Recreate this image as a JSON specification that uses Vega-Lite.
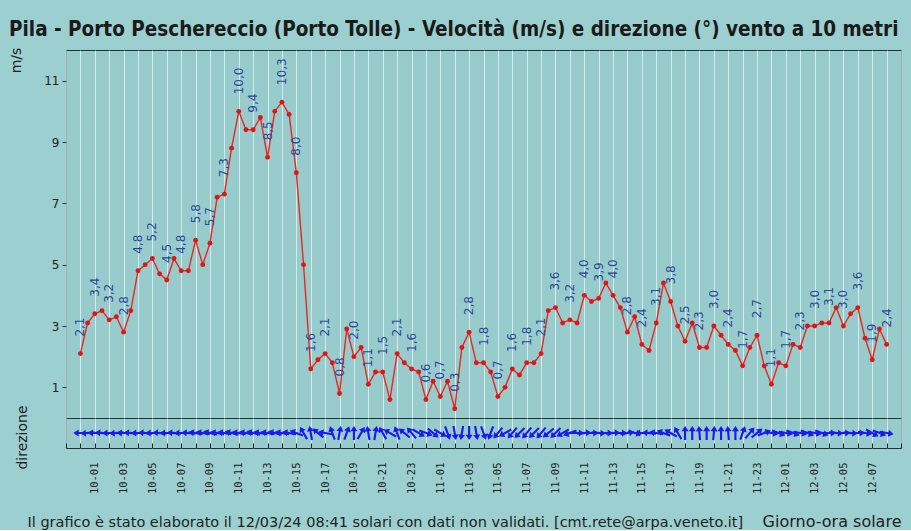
{
  "$schema": "https://vega.github.io/schema/vega-lite/v6.json",
  "background": "#9ccfcf",
  "padding": {"left": 8, "top": 19, "right": 9, "bottom": 0},
  "spacing": 0,
  "bounds": "flush",
  "config": {
    "view": {"stroke": "#1f3535", "strokeWidth": 1, "fill": "#98cccc"},
    "font": "DejaVu Sans",
    "axis": {"labelColor": "#222222", "titleColor": "#222222", "labelFont": "DejaVu Sans", "titleFont": "DejaVu Sans", "titleFontWeight": "normal"}
  },
  "data": {
    "values": [
      {"ore": 0, "velocita": 2.1, "direzione": 90},
      {"ore": 0.5, "velocita": 3.1, "direzione": 85},
      {"ore": 1, "velocita": 3.4, "direzione": 90},
      {"ore": 1.5, "velocita": 3.5, "direzione": 95},
      {"ore": 2, "velocita": 3.2, "direzione": 90},
      {"ore": 2.5, "velocita": 3.3, "direzione": 85},
      {"ore": 3, "velocita": 2.8, "direzione": 90},
      {"ore": 3.5, "velocita": 3.5, "direzione": 95},
      {"ore": 4, "velocita": 4.8, "direzione": 90},
      {"ore": 4.5, "velocita": 5.0, "direzione": 95},
      {"ore": 5, "velocita": 5.2, "direzione": 90},
      {"ore": 5.5, "velocita": 4.7, "direzione": 95},
      {"ore": 6, "velocita": 4.5, "direzione": 90},
      {"ore": 6.5, "velocita": 5.2, "direzione": 95},
      {"ore": 7, "velocita": 4.8, "direzione": 90},
      {"ore": 7.5, "velocita": 4.8, "direzione": 95},
      {"ore": 8, "velocita": 5.8, "direzione": 100},
      {"ore": 8.5, "velocita": 5.0, "direzione": 100},
      {"ore": 9, "velocita": 5.7, "direzione": 105},
      {"ore": 9.5, "velocita": 7.2, "direzione": 100},
      {"ore": 10, "velocita": 7.3, "direzione": 100},
      {"ore": 10.5, "velocita": 8.8, "direzione": 105},
      {"ore": 11, "velocita": 10.0, "direzione": 100},
      {"ore": 11.5, "velocita": 9.4, "direzione": 100},
      {"ore": 12, "velocita": 9.4, "direzione": 105},
      {"ore": 12.5, "velocita": 9.8, "direzione": 100},
      {"ore": 13, "velocita": 8.5, "direzione": 100},
      {"ore": 13.5, "velocita": 10.0, "direzione": 105},
      {"ore": 14, "velocita": 10.3, "direzione": 100},
      {"ore": 14.5, "velocita": 9.9, "direzione": 100},
      {"ore": 15, "velocita": 8.0, "direzione": 110},
      {"ore": 15.5, "velocita": 5.0, "direzione": 150},
      {"ore": 16, "velocita": 1.6, "direzione": 170},
      {"ore": 16.5, "velocita": 1.9, "direzione": 130},
      {"ore": 17, "velocita": 2.1, "direzione": 100},
      {"ore": 17.5, "velocita": 1.8, "direzione": 160},
      {"ore": 18, "velocita": 0.8, "direzione": 190},
      {"ore": 18.5, "velocita": 2.9, "direzione": 200},
      {"ore": 19, "velocita": 2.0, "direzione": 180},
      {"ore": 19.5, "velocita": 2.3, "direzione": 210},
      {"ore": 20, "velocita": 1.1, "direzione": 170},
      {"ore": 20.5, "velocita": 1.5, "direzione": 190},
      {"ore": 21, "velocita": 1.5, "direzione": 150},
      {"ore": 21.5, "velocita": 0.6, "direzione": 120},
      {"ore": 22, "velocita": 2.1, "direzione": 160},
      {"ore": 22.5, "velocita": 1.8, "direzione": 130},
      {"ore": 23, "velocita": 1.6, "direzione": 140},
      {"ore": 23.5, "velocita": 1.5, "direzione": 300},
      {"ore": 24, "velocita": 0.6, "direzione": 290},
      {"ore": 24.5, "velocita": 1.2, "direzione": 310},
      {"ore": 25, "velocita": 0.7, "direzione": 300},
      {"ore": 25.5, "velocita": 1.2, "direzione": 340},
      {"ore": 26, "velocita": 0.3, "direzione": 350},
      {"ore": 26.5, "velocita": 2.3, "direzione": 10},
      {"ore": 27, "velocita": 2.8, "direzione": 0},
      {"ore": 27.5, "velocita": 1.8, "direzione": 350},
      {"ore": 28, "velocita": 1.8, "direzione": 340},
      {"ore": 28.5, "velocita": 1.5, "direzione": 20},
      {"ore": 29, "velocita": 0.7, "direzione": 40},
      {"ore": 29.5, "velocita": 1.0, "direzione": 60},
      {"ore": 30, "velocita": 1.6, "direzione": 40},
      {"ore": 30.5, "velocita": 1.4, "direzione": 45},
      {"ore": 31, "velocita": 1.8, "direzione": 40},
      {"ore": 31.5, "velocita": 1.8, "direzione": 45},
      {"ore": 32, "velocita": 2.1, "direzione": 40},
      {"ore": 32.5, "velocita": 3.5, "direzione": 50},
      {"ore": 33, "velocita": 3.6, "direzione": 45},
      {"ore": 33.5, "velocita": 3.1, "direzione": 60},
      {"ore": 34, "velocita": 3.2, "direzione": 70},
      {"ore": 34.5, "velocita": 3.1, "direzione": 270},
      {"ore": 35, "velocita": 4.0, "direzione": 265},
      {"ore": 35.5, "velocita": 3.8, "direzione": 270},
      {"ore": 36, "velocita": 3.9, "direzione": 275},
      {"ore": 36.5, "velocita": 4.4, "direzione": 270},
      {"ore": 37, "velocita": 4.0, "direzione": 265},
      {"ore": 37.5, "velocita": 3.6, "direzione": 270},
      {"ore": 38, "velocita": 2.8, "direzione": 260},
      {"ore": 38.5, "velocita": 3.3, "direzione": 280},
      {"ore": 39, "velocita": 2.4, "direzione": 90},
      {"ore": 39.5, "velocita": 2.2, "direzione": 95},
      {"ore": 40, "velocita": 3.1, "direzione": 100},
      {"ore": 40.5, "velocita": 4.4, "direzione": 110},
      {"ore": 41, "velocita": 3.8, "direzione": 120},
      {"ore": 41.5, "velocita": 3.0, "direzione": 150},
      {"ore": 42, "velocita": 2.5, "direzione": 180},
      {"ore": 42.5, "velocita": 3.1, "direzione": 180},
      {"ore": 43, "velocita": 2.3, "direzione": 175},
      {"ore": 43.5, "velocita": 2.3, "direzione": 180},
      {"ore": 44, "velocita": 3.0, "direzione": 185},
      {"ore": 44.5, "velocita": 2.7, "direzione": 180},
      {"ore": 45, "velocita": 2.4, "direzione": 175},
      {"ore": 45.5, "velocita": 2.2, "direzione": 180},
      {"ore": 46, "velocita": 1.7, "direzione": 200},
      {"ore": 46.5, "velocita": 2.3, "direzione": 220},
      {"ore": 47, "velocita": 2.7, "direzione": 230},
      {"ore": 47.5, "velocita": 1.7, "direzione": 250},
      {"ore": 48, "velocita": 1.1, "direzione": 280},
      {"ore": 48.5, "velocita": 1.8, "direzione": 290},
      {"ore": 49, "velocita": 1.7, "direzione": 280},
      {"ore": 49.5, "velocita": 2.4, "direzione": 290},
      {"ore": 50, "velocita": 2.3, "direzione": 280},
      {"ore": 50.5, "velocita": 3.0, "direzione": 290},
      {"ore": 51, "velocita": 3.0, "direzione": 280},
      {"ore": 51.5, "velocita": 3.1, "direzione": 290},
      {"ore": 52, "velocita": 3.1, "direzione": 270},
      {"ore": 52.5, "velocita": 3.6, "direzione": 275},
      {"ore": 53, "velocita": 3.0, "direzione": 270},
      {"ore": 53.5, "velocita": 3.4, "direzione": 275},
      {"ore": 54, "velocita": 3.6, "direzione": 270},
      {"ore": 54.5, "velocita": 2.6, "direzione": 280},
      {"ore": 55, "velocita": 1.9, "direzione": 300},
      {"ore": 55.5, "velocita": 2.9, "direzione": 290},
      {"ore": 56, "velocita": 2.4, "direzione": 280}
    ]
  },
  "vconcat": [
    {
      "width": 835,
      "height": 368,
      "title": {
        "text": "Pila - Porto Peschereccio (Porto Tolle) - Velocità (m/s) e direzione (°) vento a 10 metri",
        "anchor": "start", "frame": "bounds", "font": "DejaVu Sans Condensed", "fontSize": 20.5,
        "fontWeight": "bold", "color": "#1a1a1a", "offset": 7
      },
      "encoding": {
        "x": {
          "field": "ore", "type": "quantitative",
          "scale": {"domain": [-1, 57], "nice": false, "zero": false},
          "axis": {"labels": false, "ticks": false, "domain": false, "grid": true,
                   "gridColor": "#ffffff", "gridOpacity": 0.6, "gridWidth": 1, "tickCount": 58,
                   "title": "Giorno-ora solare", "titleFontSize": 16, "titleAlign": "right",
                   "titleBaseline": "alphabetic", "titleX": 835, "titleY": 108}
        },
        "y": {
          "field": "velocita", "type": "quantitative",
          "scale": {"domain": [0, 12], "nice": false},
          "axis": {"values": [1, 3, 5, 7, 9, 11], "grid": false, "domain": false, "tickSize": 4,
                   "tickColor": "#333333", "labelFontSize": 12, "labelPadding": 3,
                   "title": "m/s", "titleFontSize": 14, "titleAngle": 270, "titleX": -50, "titleY": 10,
                   "titleAlign": "center", "titleBaseline": "middle"}
        }
      },
      "layer": [
        {"mark": {"type": "line", "color": "#e8281e", "strokeWidth": 1.4}},
        {"mark": {"type": "point", "filled": true, "color": "#e01515", "size": 24, "opacity": 1}},
        {
          "transform": [
            {"filter": "datum.ore % 1 == 0"},
            {"calculate": "replace(format(datum.velocita, '.1f'), '.', ',')", "as": "etichetta"}
          ],
          "mark": {"type": "text", "angle": 270, "align": "left", "baseline": "middle", "dx": 17,
                   "fontSize": 12, "font": "DejaVu Sans", "color": "#2d479c"},
          "encoding": {"text": {"field": "etichetta", "type": "nominal"}}
        }
      ]
    },
    {
      "width": 835,
      "height": 30,
      "mark": {"type": "point", "shape": "M0,-1L0.5,-0.25L0.15,-0.25L0.15,1L-0.15,1L-0.15,-0.25L-0.5,-0.25Z",
               "filled": true, "color": "#1a1aee", "size": 200, "opacity": 1},
      "encoding": {
        "x": {
          "field": "ore", "type": "quantitative",
          "scale": {"domain": [-1, 57], "nice": false, "zero": false},
          "axis": {"tickCount": 58,
                   "labelExpr": "datum.value % 2 == 1 && datum.value < 56 ? (10 + floor(datum.value / 24)) + '-' + pad(toString(datum.value % 24), 2, '0', 'left') : ''",
                   "labelAngle": 270, "labelAlign": "right", "labelBaseline": "middle",
                   "labelFont": "DejaVu Sans Mono", "labelFontSize": 10.5, "labelColor": "#222222",
                   "labelOverlap": false, "labelBound": false, "labelFlush": false, "labelPadding": 19,
                   "tickSize": -5, "tickColor": "#222222", "domain": false,
                   "grid": true, "gridColor": "#ffffff", "gridOpacity": 0.6,
                   "title": "Il grafico è stato elaborato il 12/03/24 08:41 solari con dati non validati. [cmt.rete@arpa.veneto.it]",
                   "titleFontSize": 14.5, "titleAlign": "left", "titleBaseline": "alphabetic",
                   "titleX": -39, "titleY": 78}
        },
        "y": {
          "datum": 0, "type": "quantitative", "scale": {"domain": [-1, 1]},
          "axis": {"title": "direzione", "labels": false, "ticks": false, "domain": false, "grid": false,
                   "titleFontSize": 14, "titleAngle": 270, "titleX": -44, "titleY": 19,
                   "titleAlign": "center", "titleBaseline": "middle"}
        },
        "angle": {"field": "direzione", "type": "quantitative",
                  "scale": {"domain": [0, 360], "range": [180, 540]}, "legend": null}
      }
    }
  ]
}
